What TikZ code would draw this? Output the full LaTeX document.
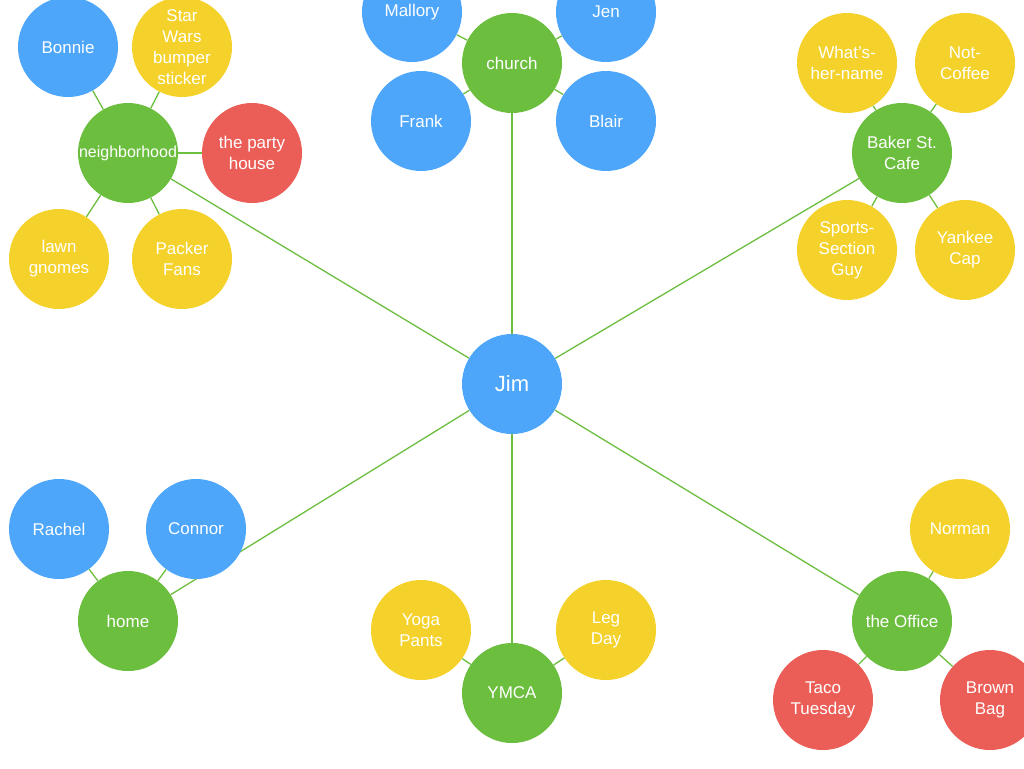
\documentclass[tikz,border=0pt]{standalone}
\usepackage{fontspec}
\setmainfont{Liberation Sans}
\usetikzlibrary{backgrounds}
\definecolor{jimblue}{HTML}{4DA6FA}
\definecolor{hubgreen}{HTML}{6CBE3F}
\definecolor{tagyellow}{HTML}{F5D22B}
\definecolor{hotred}{HTML}{EB5E57}
\begin{document}
\begin{tikzpicture}[x=1pt,y=-1pt]
	\tikzstyle{bubble} = [circle, minimum size=100pt, inner sep=0pt, text=white, align=center, font=\fontsize{17}{21}\selectfont]
	\tikzstyle{person} = [bubble, fill=jimblue]
	\tikzstyle{place} = [bubble, fill=hubgreen]
	\tikzstyle{thing} = [bubble, fill=tagyellow]
	\tikzstyle{spot} = [bubble, fill=hotred]
	\tikzstyle{edge} = [draw=hubgreen, line width=1.3pt]

	\useasboundingbox (0,0) rectangle (1024,768);

	\node[person, font=\fontsize{22}{24}\selectfont] (jim) at (512,384) {Jim};

	%places
	\foreach \name/\x/\y/\txt in {church/512/63/church, neighborhood/128/153/{\fontsize{16}{18}\selectfont neighborhood}, baker/902/153/{Baker St.\\Cafe}, home/128/621/home, ymca/512/693/YMCA, office/902/621/{the Office}}
		\node[place] (\name) at (\x,\y) {\txt};

	%people
	\foreach \name/\x/\y/\txt in {mallory/412/12/Mallory, jen/606/12/Jen, frank/421/121/Frank, blair/606/121/Blair, bonnie/68/47/Bonnie, rachel/59/529/Rachel, connor/196/529/Connor}
		\node[person] (\name) at (\x,\y) {\txt};

	%things
	\foreach \name/\x/\y/\txt in {starwars/182/47/{Star\\Wars\\bumper\\sticker}, gnomes/59/259/{lawn\\gnomes}, packer/182/259/{Packer\\Fans}, whats/847/63/{What's-\\her-name}, notcoffee/965/63/{Not-\\Coffee}, sports/847/250/{Sports-\\Section\\Guy}, yankee/965/250/{Yankee\\Cap}, yoga/421/630/{Yoga\\Pants}, legday/606/630/{Leg\\Day}, norman/960/529/Norman}
		\node[thing] (\name) at (\x,\y) {\txt};

	\foreach \name/\x/\y/\txt in {party/252/153/{the party\\house}, taco/823/700/{Taco\\Tuesday}, brownbag/990/700/{Brown\\Bag}}
		\node[spot] (\name) at (\x,\y) {\txt};

	%links, behind the bubbles
	\begin{pgfonlayer}{background}
	\foreach \hub in {church, neighborhood, baker, home, ymca, office}
		\draw[edge] (jim) -- (\hub);
	\foreach \from/\to in {church/mallory, church/jen, church/frank, church/blair, neighborhood/bonnie, neighborhood/starwars, neighborhood/party, neighborhood/gnomes, neighborhood/packer, baker/whats, baker/notcoffee, baker/sports, baker/yankee, home/rachel, home/connor, ymca/yoga, ymca/legday, office/norman, office/taco, office/brownbag}
		\draw[edge] (\from) -- (\to);
	\end{pgfonlayer}
\end{tikzpicture}
\end{document}
